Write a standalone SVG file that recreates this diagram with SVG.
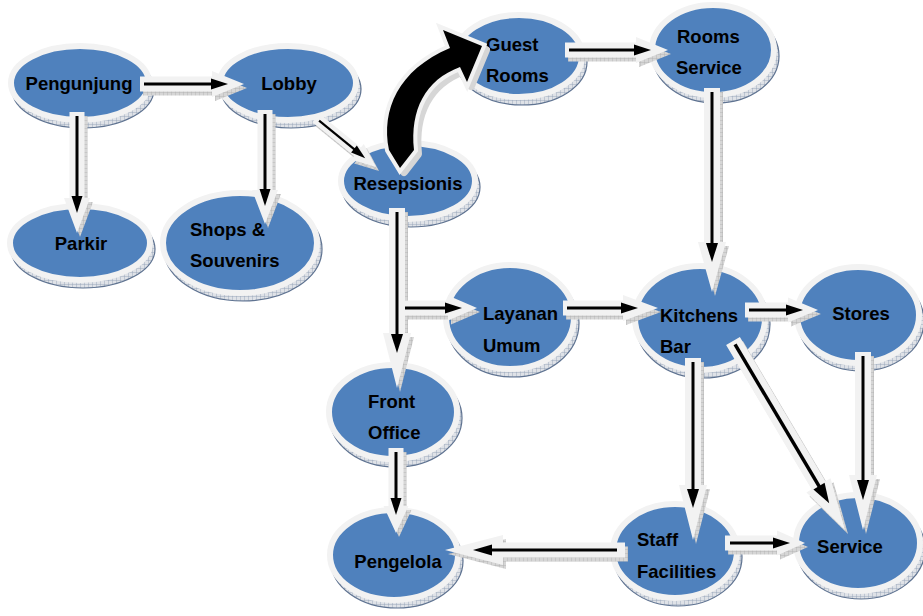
<svg xmlns="http://www.w3.org/2000/svg" width="923" height="616" viewBox="0 0 923 616">
<defs>
<pattern id="hatchE" width="4" height="4" patternUnits="userSpaceOnUse"><rect width="4" height="4" fill="#dfe2e7"/><path d="M0 0 L0 4 M0 0 L4 0" stroke="#8d9bb1" stroke-width="0.8"/></pattern>
<pattern id="hatchA" width="4" height="4" patternUnits="userSpaceOnUse"><rect width="4" height="4" fill="#d6d6d6"/><path d="M0 0 L0 4 M0 0 L4 0" stroke="#a8a8a8" stroke-width="0.7"/></pattern>
</defs>
<style>
.esh{fill:url(#hatchE);stroke:#5f7391;stroke-width:1.2}
.el{fill:#4f81bd;stroke:#f2f2f2;stroke-width:6}
.t{font-family:"Liberation Sans",Arial,sans-serif;font-weight:bold;font-size:18.5px;fill:#000}
.m{text-anchor:middle}
.ash{fill:url(#hatchA)}
.ah{fill:#f2f2f2}
.ab{stroke:#000;stroke-width:3;fill:none}
.ak{fill:#000}
</style>
<rect width="923" height="616" fill="#fff"/>

<g id="node-pengunjung"><ellipse class="esh" cx="83" cy="89" rx="71" ry="39"/><ellipse class="el" cx="80" cy="83" rx="69" ry="37"/><text class="t m" x="79" y="90">Pengunjung</text></g>
<g id="node-lobby"><ellipse class="esh" cx="291" cy="89" rx="70" ry="39"/><ellipse class="el" cx="288" cy="83" rx="68" ry="37"/><text class="t m" x="289" y="90">Lobby</text></g>
<g id="node-parkir"><ellipse class="esh" cx="83" cy="249" rx="72" ry="39"/><ellipse class="el" cx="80" cy="243" rx="70" ry="37"/><text class="t m" x="81" y="250">Parkir</text></g>
<g id="node-shops"><ellipse class="esh" cx="243" cy="249" rx="79" ry="52"/><ellipse class="el" cx="240" cy="243" rx="77" ry="50"/><text class="t" x="190" y="236">Shops &amp;</text><text class="t" x="190" y="267">Souvenirs</text></g>
<g id="node-resepsionis"><ellipse class="esh" cx="411" cy="187" rx="69" ry="40"/><ellipse class="el" cx="408" cy="181" rx="67" ry="38"/><text class="t m" x="408" y="190">Resepsionis</text></g>
<g id="node-guest"><ellipse class="esh" cx="522" cy="62" rx="65" ry="43"/><ellipse class="el" cx="519" cy="56" rx="63" ry="41"/><text class="t" x="486" y="51">Guest</text><text class="t" x="486" y="82">Rooms</text></g>
<g id="node-roomsservice"><ellipse class="esh" cx="716" cy="56" rx="63" ry="47"/><ellipse class="el" cx="713" cy="50" rx="61" ry="45"/><text class="t" x="677" y="43">Rooms</text><text class="t" x="676" y="74">Service</text></g>
<g id="node-layanan"><ellipse class="esh" cx="513" cy="323" rx="66" ry="54"/><ellipse class="el" cx="510" cy="317" rx="64" ry="52"/><text class="t" x="483" y="320">Layanan</text><text class="t" x="483" y="352">Umum</text></g>
<g id="node-kitchens"><ellipse class="esh" cx="703" cy="324" rx="67" ry="54"/><ellipse class="el" cx="700" cy="318" rx="65" ry="52"/><text class="t" x="660" y="322">Kitchens</text><text class="t" x="660" y="353">Bar</text></g>
<g id="node-stores"><ellipse class="esh" cx="861" cy="321" rx="63" ry="50"/><ellipse class="el" cx="858" cy="315" rx="61" ry="48"/><text class="t m" x="861" y="320">Stores</text></g>
<g id="node-frontoffice"><ellipse class="esh" cx="396" cy="418" rx="66" ry="49"/><ellipse class="el" cx="393" cy="412" rx="64" ry="47"/><text class="t" x="368" y="408">Front</text><text class="t" x="368" y="439">Office</text></g>
<g id="node-pengelola"><ellipse class="esh" cx="397" cy="561" rx="66" ry="47"/><ellipse class="el" cx="394" cy="555" rx="64" ry="45"/><text class="t m" x="398" y="568">Pengelola</text></g>
<g id="node-staff"><ellipse class="esh" cx="678" cy="557" rx="64" ry="49"/><ellipse class="el" cx="675" cy="551" rx="62" ry="47"/><text class="t" x="637" y="546">Staff</text><text class="t" x="637" y="578">Facilities</text></g>
<g id="node-service"><ellipse class="esh" cx="861" cy="549" rx="64" ry="50"/><ellipse class="el" cx="858" cy="543" rx="62" ry="48"/><text class="t m" x="850" y="553">Service</text></g>

<g id="connectors">
<!-- Pengunjung -> Lobby -->
<g><g transform="translate(3,4)"><polygon class="ash" transform="translate(140,84)" points="0,-7.5 72,-7.5 72,-13 104,0 72,13 72,7.5 0,7.5"/></g>
<g transform="translate(140,84)"><polygon class="ah" points="0,-7.5 72,-7.5 72,-13 104,0 72,13 72,7.5 0,7.5"/><line class="ab" x1="4" y1="0" x2="76" y2="0"/><polygon class="ak" points="71,-5.5 88,0 71,5.5"/></g></g>
<!-- Pengunjung -> Parkir -->
<g><g transform="translate(3,4)"><polygon class="ash" transform="translate(77,112) rotate(90)" points="0,-7.5 86,-7.5 86,-13 121,0 86,13 86,7.5 0,7.5"/></g>
<g transform="translate(77,112) rotate(90)"><polygon class="ah" points="0,-7.5 86,-7.5 86,-13 121,0 86,13 86,7.5 0,7.5"/><line class="ab" x1="4" y1="0" x2="89" y2="0"/><polygon class="ak" points="84,-5.5 101,0 84,5.5"/></g></g>
<!-- Lobby -> Shops -->
<g><g transform="translate(3,4)"><polygon class="ash" transform="translate(265,110) rotate(90)" points="0,-7.5 80,-7.5 80,-13 114,0 80,13 80,7.5 0,7.5"/></g>
<g transform="translate(265,110) rotate(90)"><polygon class="ah" points="0,-7.5 80,-7.5 80,-13 114,0 80,13 80,7.5 0,7.5"/><line class="ab" x1="4" y1="0" x2="84" y2="0"/><polygon class="ak" points="79,-5.5 96,0 79,5.5"/></g></g>
<!-- Lobby -> Resepsionis -->
<g><g transform="translate(3,4)"><polygon class="ash" transform="translate(316,118) rotate(39.2)" points="0,-5.5 53.5,-5.5 53.5,-10 77.5,0 53.5,10 53.5,5.5 0,5.5"/></g>
<g transform="translate(316,118) rotate(39.2)"><polygon class="ah" points="0,-5.5 53.5,-5.5 53.5,-10 77.5,0 53.5,10 53.5,5.5 0,5.5"/><line class="ab" style="stroke-width:2.2" x1="4" y1="0" x2="53.5" y2="0"/><polygon class="ak" points="49,-4.5 63.5,0 49,4.5"/></g></g>
<!-- Resepsionis -> Guest Rooms (curved) -->
<g>
<path transform="translate(4,4)" fill="url(#hatchA)" stroke="#d6d6d6" stroke-width="8" stroke-linejoin="round" d="M400,168 L389,150 C381,110 398,70 450,48 L443,30 L482,46 L467,82 L460,67 C425,80 410,110 414,150 Z"/>
<path fill="#000" stroke="#f2f2f2" stroke-width="8" stroke-linejoin="miter" paint-order="stroke" d="M400,168 L389,150 C381,110 398,70 450,48 L443,30 L482,46 L467,82 L460,67 C425,80 410,110 414,150 Z"/>
</g>
<!-- Guest Rooms -> Rooms Service -->
<g><g transform="translate(3,4)"><polygon class="ash" transform="translate(565,50)" points="0,-7.5 71,-7.5 71,-13 103,0 71,13 71,7.5 0,7.5"/></g>
<g transform="translate(565,50)"><polygon class="ah" points="0,-7.5 71,-7.5 71,-13 103,0 71,13 71,7.5 0,7.5"/><line class="ab" x1="4" y1="0" x2="74" y2="0"/><polygon class="ak" points="69,-5.5 86,0 69,5.5"/></g></g>
<!-- Rooms Service -> Kitchens -->
<g><g transform="translate(3,4)"><polygon class="ash" transform="translate(712,88) rotate(90)" points="0,-8 154,-8 154,-14 204,0 154,14 154,8 0,8"/></g>
<g transform="translate(712,88) rotate(90)"><polygon class="ah" points="0,-8 154,-8 154,-14 204,0 154,14 154,8 0,8"/><line class="ab" x1="4" y1="0" x2="162" y2="0"/><polygon class="ak" points="155,-6 174,0 155,6"/></g></g>
<!-- Resepsionis -> Front Office -->
<g><g transform="translate(3,4)"><polygon class="ash" transform="translate(397,208) rotate(90)" points="0,-8 125,-8 125,-14 180,0 125,14 125,8 0,8"/></g>
<g transform="translate(397,208) rotate(90)"><polygon class="ah" points="0,-8 125,-8 125,-14 180,0 125,14 125,8 0,8"/><line class="ab" x1="4" y1="0" x2="133" y2="0"/><polygon class="ak" points="126,-6 145,0 126,6"/></g></g>
<!-- branch -> Layanan Umum -->
<g><g transform="translate(3,4)"><polygon class="ash" transform="translate(405,308)" points="0,-7.5 43,-7.5 43,-12.5 72,0 43,12.5 43,7.5 0,7.5"/></g>
<g transform="translate(405,308)"><polygon class="ah" points="0,-7.5 43,-7.5 43,-12.5 72,0 43,12.5 43,7.5 0,7.5"/><line class="ab" x1="0" y1="0" x2="45" y2="0"/><polygon class="ak" points="40,-5.5 57,0 40,5.5"/></g></g>
<!-- Layanan -> Kitchens -->
<g><g transform="translate(3,4)"><polygon class="ash" transform="translate(563,308)" points="0,-7.5 60,-7.5 60,-13 95,0 60,13 60,7.5 0,7.5"/></g>
<g transform="translate(563,308)"><polygon class="ah" points="0,-7.5 60,-7.5 60,-13 95,0 60,13 60,7.5 0,7.5"/><line class="ab" x1="4" y1="0" x2="63" y2="0"/><polygon class="ak" points="58,-5.5 75,0 58,5.5"/></g></g>
<!-- Kitchens -> Stores -->
<g><g transform="translate(3,4)"><polygon class="ash" transform="translate(745,310)" points="0,-7.5 43,-7.5 43,-12.5 73,0 43,12.5 43,7.5 0,7.5"/></g>
<g transform="translate(745,310)"><polygon class="ah" points="0,-7.5 43,-7.5 43,-12.5 73,0 43,12.5 43,7.5 0,7.5"/><line class="ab" x1="4" y1="0" x2="46" y2="0"/><polygon class="ak" points="41,-5.5 58,0 41,5.5"/></g></g>
<!-- Stores -> Service -->
<g><g transform="translate(3,4)"><polygon class="ash" transform="translate(863,352) rotate(90)" points="0,-8 123,-8 123,-14 178,0 123,14 123,8 0,8"/></g>
<g transform="translate(863,352) rotate(90)"><polygon class="ah" points="0,-8 123,-8 123,-14 178,0 123,14 123,8 0,8"/><line class="ab" x1="4" y1="0" x2="136" y2="0"/><polygon class="ak" points="128,-6 148,0 128,6"/></g></g>
<!-- Kitchens -> Staff -->
<g><g transform="translate(3,4)"><polygon class="ash" transform="translate(693,358) rotate(90)" points="0,-8 127,-8 127,-14 182,0 127,14 127,8 0,8"/></g>
<g transform="translate(693,358) rotate(90)"><polygon class="ah" points="0,-8 127,-8 127,-14 182,0 127,14 127,8 0,8"/><line class="ab" x1="4" y1="0" x2="138" y2="0"/><polygon class="ak" points="131,-6 150,0 131,6"/></g></g>
<!-- Kitchens -> Service -->
<g><g transform="translate(3,4)"><polygon class="ash" transform="translate(733,341) rotate(59.35)" points="0,-8 167.7,-8 167.7,-14 219.7,0 167.7,14 167.7,8 0,8"/></g>
<g transform="translate(733,341) rotate(59.35)"><polygon class="ah" points="0,-8 167.7,-8 167.7,-14 219.7,0 167.7,14 167.7,8 0,8"/><line class="ab" style="stroke-width:3.5" x1="4" y1="0" x2="176" y2="0"/><polygon class="ak" points="168.7,-6.5 188.7,0 168.7,6.5"/></g></g>
<!-- Front Office -> Pengelola -->
<g><g transform="translate(3,4)"><polygon class="ash" transform="translate(396,448) rotate(90)" points="0,-7.5 58,-7.5 58,-12.5 85,0 58,12.5 58,7.5 0,7.5"/></g>
<g transform="translate(396,448) rotate(90)"><polygon class="ah" points="0,-7.5 58,-7.5 58,-12.5 85,0 58,12.5 58,7.5 0,7.5"/><line class="ab" x1="4" y1="0" x2="55" y2="0"/><polygon class="ak" points="50,-5.5 67,0 50,5.5"/></g></g>
<!-- Staff -> Pengelola -->
<g><g transform="translate(3,4)"><polygon class="ash" transform="translate(625,550) rotate(180)" points="0,-7.5 122,-7.5 122,-15 180,0 122,15 122,7.5 0,7.5"/></g>
<g transform="translate(625,550) rotate(180)"><polygon class="ah" points="0,-7.5 122,-7.5 122,-15 180,0 122,15 122,7.5 0,7.5"/><line class="ab" x1="8" y1="0" x2="140" y2="0"/><polygon class="ak" points="133,-5.5 152,0 133,5.5"/></g></g>
<!-- Staff -> Service -->
<g><g transform="translate(3,4)"><polygon class="ash" transform="translate(725,543)" points="0,-7.5 52,-7.5 52,-12.5 80,0 52,12.5 52,7.5 0,7.5"/></g>
<g transform="translate(725,543)"><polygon class="ah" points="0,-7.5 52,-7.5 52,-12.5 80,0 52,12.5 52,7.5 0,7.5"/><line class="ab" x1="5" y1="0" x2="53" y2="0"/><polygon class="ak" points="48,-5.5 65,0 48,5.5"/></g></g>
</g>
</svg>
